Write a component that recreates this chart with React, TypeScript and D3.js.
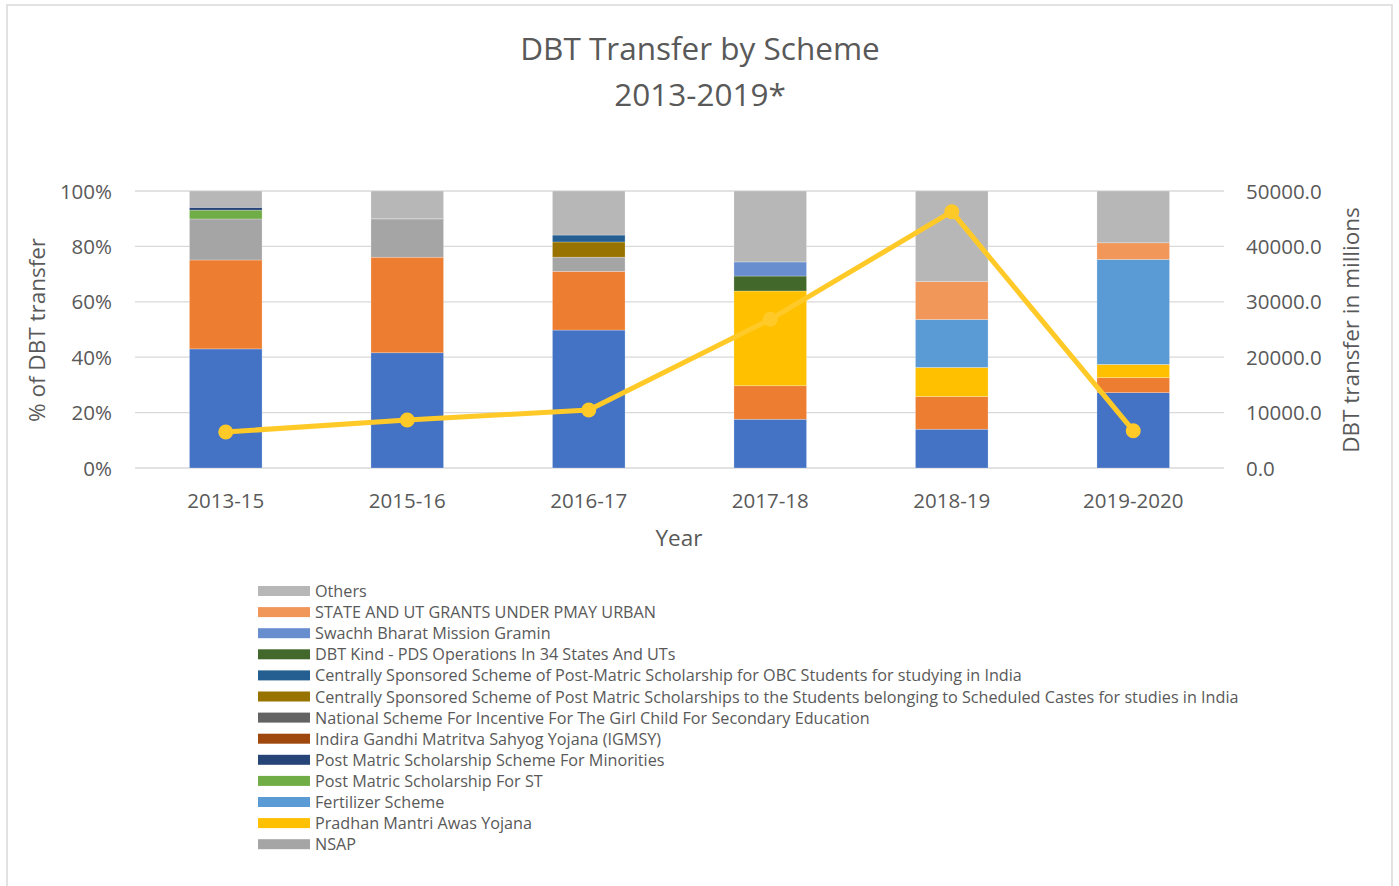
import React from "react";
import * as d3 from "d3";

const years = ["2013-15", "2015-16", "2016-17", "2017-18", "2018-19", "2019-2020"];

// Stacking order bottom -> top (percent of DBT transfer)
const seriesNames = [
  "MGNREGA",
  "PAHAL",
  "NSAP",
  "Pradhan Mantri Awas Yojana",
  "Fertilizer Scheme",
  "Post Matric Scholarship For ST",
  "Post Matric Scholarship Scheme For Minorities",
  "Indira Gandhi Matritva Sahyog Yojana (IGMSY)",
  "National Scheme For Incentive For The Girl Child For Secondary Education",
  "Centrally Sponsored Scheme of Post Matric Scholarships to the Students belonging to Scheduled Castes for studies in India",
  "Centrally Sponsored Scheme of Post-Matric Scholarship for OBC Students for studying in India",
  "DBT Kind - PDS Operations In 34 States And UTs",
  "Swachh Bharat Mission Gramin",
  "STATE AND UT GRANTS UNDER PMAY URBAN",
  "Others",
];

const seriesColors = [
  "#4472C4", "#ED7D31", "#A5A5A5", "#FFC000", "#5B9BD5", "#70AD47", "#264478",
  "#9E480E", "#636363", "#997300", "#255E91", "#43682B", "#698ED0", "#F1975A", "#B7B7B7",
];

// legend shows these, top to bottom = reverse stacking order
const legendSeries = seriesNames.slice(2).reverse();

const mgnrega = [43.0, 41.6, 49.8, 17.6, 14.0, 27.2];
const pahal = [32.1, 34.5, 21.2, 12.1, 11.8, 5.4];
const nsap = [14.8, 13.6, 5.1, 0, 0, 0];
const pmay = [0, 0, 0, 34.2, 10.5, 4.8];
const fertilizer = [0, 0, 0, 0, 17.3, 37.9];
const stScholarship = [3.2, 0, 0, 0, 0, 0];
const minorities = [1.0, 0, 0, 0, 0, 0];
const igmsy = [0, 0, 0, 0, 0, 0];
const girlChild = [0, 0.3, 0, 0, 0, 0];
const scScholarship = [0, 0, 5.5, 0, 0, 0];
const obcScholarship = [0, 0, 2.5, 0, 0, 0];
const dbtKindPds = [0, 0, 0, 5.4, 0, 0];
const swachh = [0, 0, 0, 5.1, 0, 0];
const stateUtGrants = [0, 0, 0, 0, 13.7, 6.0];
const others = [5.9, 10.0, 15.9, 25.6, 32.7, 18.7];

const seriesValues = [
  mgnrega, pahal, nsap, pmay, fertilizer, stScholarship, minorities, igmsy,
  girlChild, scScholarship, obcScholarship, dbtKindPds, swachh, stateUtGrants, others,
];

const totalTransfer = [6500, 8660, 10470, 26840, 46260, 6730];

const leftTicks = [0, 20, 40, 60, 80, 100];
const rightTicks = [0, 10000, 20000, 30000, 40000, 50000];

const W = 1399;
const H = 886;
const plotLeft = 135;
const plotRight = 1224;
const plotTop = 191;
const plotBottom = 468;
const font = "'Open Sans', 'Noto Sans', sans-serif";
const textColor = "#595959";

export default function App() {
  const x = d3.scaleBand<string>().domain(years).range([plotLeft, plotRight]).paddingInner(0.6).paddingOuter(0.3);
  const yL = d3.scaleLinear().domain([0, 100]).range([plotBottom, plotTop]);
  const yR = d3.scaleLinear().domain([0, 50000]).range([plotBottom, plotTop]);

  const table = years.map((yr, i) => {
    const row: Record<string, any> = { year: yr };
    seriesNames.forEach((s, j) => (row[s] = seriesValues[j][i]));
    return row;
  });
  const stacked = d3.stack<Record<string, any>>().keys(seriesNames).offset(d3.stackOffsetExpand)(table);

  const line = d3
    .line<number>()
    .x((_, i) => (x(years[i]) as number) + x.bandwidth() / 2)
    .y((d) => yR(d));

  const legendX = 258;
  const legendY0 = 591;
  const legendStep = 21.1;

  return (
    <svg width={W} height={H} style={{ position: "absolute", left: 0, top: 0, background: "#fff" }} fontFamily={font}>
      <rect x={0} y={0} width={W} height={H} fill="#fff" />
      <rect x={7} y={5} width={1385} height={900} fill="#fff" stroke="#d9d9d9" strokeWidth={1.5} />

      <text x={700} y={60} textAnchor="middle" fontSize={31.5} fill={textColor}>DBT Transfer by Scheme</text>
      <text x={700} y={106} textAnchor="middle" fontSize={31.5} fill={textColor}>2013-2019*</text>

      {leftTicks.map((t) => (
        <line key={"g" + t} x1={plotLeft} x2={plotRight} y1={yL(t)} y2={yL(t)} stroke="#d9d9d9" strokeWidth={1.3} />
      ))}

      {stacked.map((layer, j) => (
        <g key={layer.key} fill={seriesColors[j]}>
          {layer.map((d, i) =>
            d[1] - d[0] > 0 ? (
              <rect
                key={i}
                x={x(years[i])}
                width={x.bandwidth()}
                y={yL(d[1] * 100)}
                height={yL(d[0] * 100) - yL(d[1] * 100)}
                stroke="#ffffff"
                strokeOpacity={0.35}
                strokeWidth={0.7}
              />
            ) : null
          )}
        </g>
      ))}

      {leftTicks.map((t) => (
        <text key={"l" + t} x={112} y={yL(t) + 7.5} textAnchor="end" fontSize={20.5} fill={textColor}>
          {t + "%"}
        </text>
      ))}
      {rightTicks.map((t) => (
        <text key={"r" + t} x={1246} y={yR(t) + 7.5} textAnchor="start" fontSize={20.5} fill={textColor}>
          {t.toFixed(1)}
        </text>
      ))}
      {years.map((yr) => (
        <text key={yr} x={(x(yr) as number) + x.bandwidth() / 2} y={508} textAnchor="middle" fontSize={20.5} fill={textColor}>
          {yr}
        </text>
      ))}
      <text x={679} y={546} textAnchor="middle" fontSize={22.5} fill={textColor}>Year</text>
      <text transform={`translate(45,330) rotate(-90)`} textAnchor="middle" fontSize={22.5} fill={textColor}>% of DBT transfer</text>
      <text transform={`translate(1359,330) rotate(-90)`} textAnchor="middle" fontSize={22.5} fill={textColor}>DBT transfer in millions</text>

      <path d={line(totalTransfer) || ""} fill="none" stroke="#FFCA28" strokeWidth={5} strokeLinejoin="round" />
      {totalTransfer.map((v, i) => (
        <circle key={i} cx={(x(years[i]) as number) + x.bandwidth() / 2} cy={yR(v)} r={7.5} fill="#FFCA28" />
      ))}

      {legendSeries.map((name, k) => {
        const j = seriesNames.indexOf(name);
        const cy = legendY0 + k * legendStep;
        return (
          <g key={name}>
            <rect x={legendX} y={cy - 5} width={52} height={10} fill={seriesColors[j]} />
            <text x={315} y={cy + 6} fontSize={16.2} fill={textColor}>{name}</text>
          </g>
        );
      })}
    </svg>
  );
}
